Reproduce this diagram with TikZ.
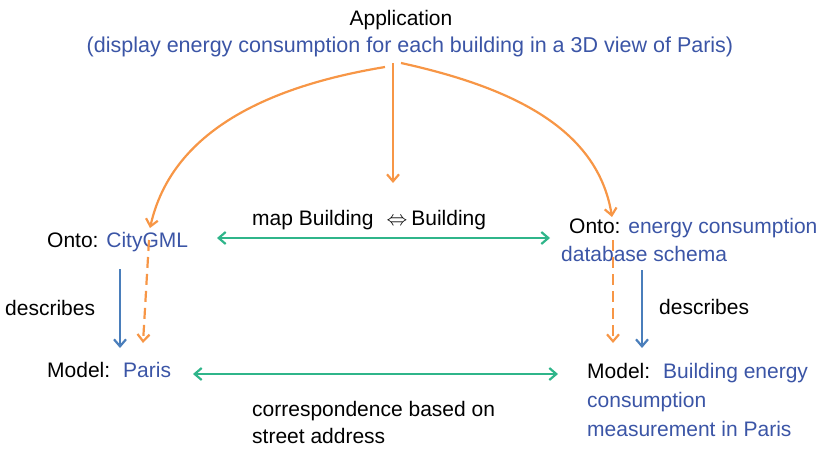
\documentclass[tikz,border=0pt]{standalone}
\usepackage{fontspec}
\setmainfont{Liberation Sans}
\usetikzlibrary{arrows.meta}
\definecolor{txtblue}{HTML}{3B55A6}
\definecolor{orangeA}{HTML}{F79646}
\definecolor{greenA}{HTML}{2FB58A}
\definecolor{blueA}{HTML}{4A7EBB}
\tikzset{
  txt/.style={anchor=base west, inner sep=0pt, font=\fontsize{21}{28}\selectfont},
  ctxt/.style={anchor=base, inner sep=0pt, font=\fontsize{21}{28}\selectfont},
  tipend/.style={-{Straight Barb[length=7pt,width=12pt,line width=2.2pt]}},
  dtip/.style={{Straight Barb[length=7pt,width=12pt,line width=2.2pt]}-{Straight Barb[length=7pt,width=12pt,line width=2.2pt]}},
  orarrow/.style={draw=orangeA, line width=2.2pt, tipend},
  grarrow/.style={draw=greenA, line width=2.4pt, dtip},
  blarrow/.style={draw=blueA, line width=2.2pt, tipend},
  mydashed/.style={dash pattern=on 11pt off 6pt}
}
\begin{document}
\begin{tikzpicture}[x=1pt,y=-1pt]
\useasboundingbox (0,0) rectangle (826,448);
% texts
\node[ctxt] (app) at (401,25) {Application};
\node[ctxt, text=txtblue, font=\fontsize{21.5}{28}\selectfont] (appd) at (410,52) {(display energy consumption for each building in a 3D view of Paris)};
\node[txt] (onto1) at (47,247) {Onto: \textcolor{txtblue}{CityGML}};
\node[txt] (map) at (252,225) {map Building\hspace{13pt}$\Leftrightarrow$\hspace{4pt}Building};
\node[txt] (onto2) at (569,233) {Onto: \textcolor{txtblue}{energy consumption}};
\node[txt, text=txtblue] (onto2b) at (561,261) {database schema};
\node[txt] (desc1) at (5,315) {describes};
\node[txt] (desc2) at (659,314) {describes};
\node[txt] (model1) at (47,377) {Model:\hspace{13pt}\textcolor{txtblue}{Paris}};
\node[txt] (model2) at (587,378) {Model:\hspace{13pt}\textcolor{txtblue}{Building energy}};
\node[txt, text=txtblue] (model2b) at (587,407) {consumption};
\node[txt, text=txtblue] (model2c) at (587,436) {measurement in Paris};
\node[txt] (corr1) at (252,416) {correspondence based on};
\node[txt] (corr2) at (252,443) {street address};
% connector endpoints
\coordinate (aL) at (385,67);
\coordinate (aM) at (393,63);
\coordinate (aR) at (401,63);
\coordinate (eL) at (150,228);
\coordinate (eM) at (393,183);
\coordinate (eR) at (612,217);
\coordinate (dL1) at (149,240);
\coordinate (dL2) at (143,343);
\coordinate (dR1) at (613,240);
\coordinate (dR2) at (613,343);
\coordinate (gU1) at (217,238);
\coordinate (gU2) at (550,238);
\coordinate (gD1) at (193,374);
\coordinate (gD2) at (558,374);
\coordinate (bL1) at (120,269);
\coordinate (bL2) at (120,348);
\coordinate (bR1) at (642,270);
\coordinate (bR2) at (642,348);
% orange arrows
\draw[orarrow] (aL) .. controls (270,86) and (172,130) .. (eL);
\draw[orarrow] (aM) -- (eM);
\draw[orarrow] (aR) .. controls (515,88) and (598,130) .. (eR);
\draw[orarrow, mydashed] (dL1) -- (dL2);
\draw[orarrow, mydashed] (dR1) -- (dR2);
% green arrows
\draw[grarrow] (gU1) -- (gU2);
\draw[grarrow] (gD1) -- (gD2);
% blue arrows
\draw[blarrow] (bL1) -- (bL2);
\draw[blarrow] (bR1) -- (bR2);
\end{tikzpicture}
\end{document}
